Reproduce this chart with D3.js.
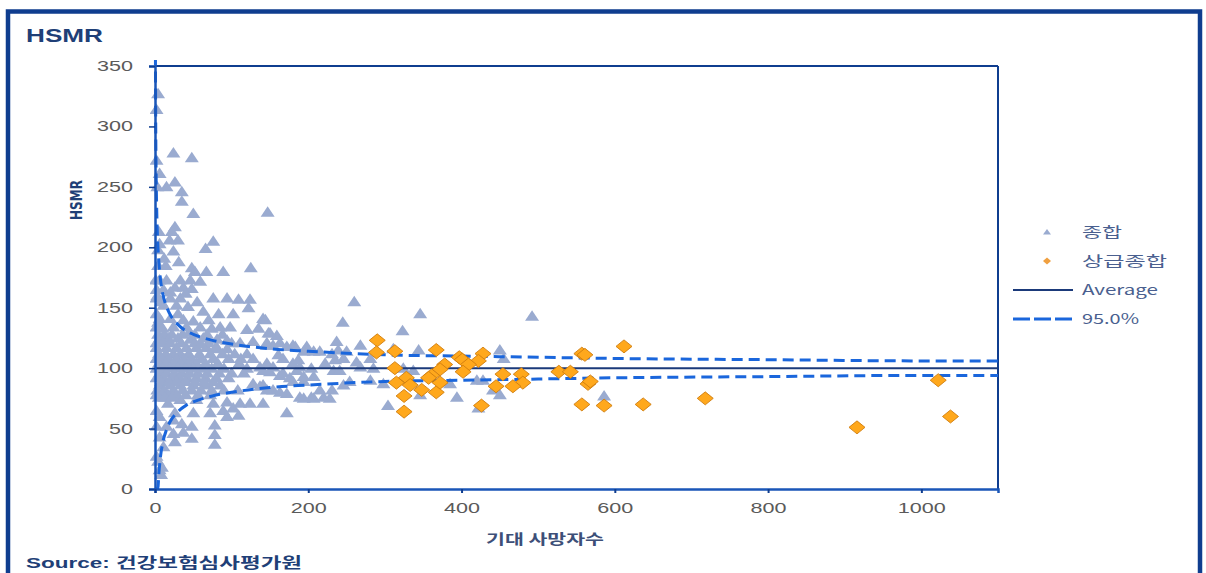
<!DOCTYPE html>
<html><head><meta charset="utf-8">
<script src="https://cdn.jsdelivr.net/npm/d3@7"></script>
<style>
html,body{margin:0;padding:0;background:#fff;}
svg{display:block;}
</style></head>
<body><svg id="c" width="1206" height="573"></svg>
<script>
// ---- data ----
const xTicks = [0, 200, 400, 600, 800, 1000];
const yTicks = [0, 50, 100, 150, 200, 250, 300, 350];
const seriesNames = ["종합", "상급종합", "Average", "95.0%"];
const averageValue = 100;
const bandX     = [0.3,0.5,0.7,1,1.5,2,3,4,5,7,10,15,20,30,40,50,75,100,150,200,300,400,500,600,800,1000,1100];
const bandUpper = [458,377,334,296,260,239,213,198,188,174,162,151,144,136,131,128,123,120,116,114,111,110,109,108,107,106,106];
const bandLower = [0,0,0,0,0,0,0,2,12,26,38,49,56,64,69,72,77,80,84,86,89,90,91,92,93,94,94];

// 종합 (expected deaths, HSMR)
const general = [
[4,327],[2,314],[24,278],[48,274],[2,272],[6,261],[26,254],[3,250],[15,250],[35,246],[35,238],[50,228],[147,229],[26,217],[22,213],[30,206],[19,206],[5,213],[6,203],[76,205],[66,199],[4,198],[12,191],[31,188],[4,185],[48,183],[125,183],[52,180],[67,180],[89,180],
[1,173],[6,173],[15,173],[33,173],[46,173],[59,172],[26,167],[37,167],[48,166],[11,165],[20,163],
[2,158],[20,158],[33,158],[76,158],[94,158],[109,157],[124,157],
[11,152],[28,152],[43,151],[63,147],[83,145],[102,145],[122,150],[141,141],
[6,141],[20,141],[37,140],[50,139],
[2,134],[24,134],[41,134],[59,134],[74,133],[85,134],[98,134],
[120,132],[135,133],[148,129],[159,127],
[6,125],[17,125],[30,125],[46,124],[63,125],[81,124],[94,123],
[111,121],[128,122],[146,121],[163,121],[183,118],[198,118],[215,114],
[2,117],[15,117],[28,117],[41,117],[54,117],[67,117],[81,116],[94,116],
[189,101],[204,100],[137,101],[150,97],[163,94],[176,92],
[6,86],[20,86],[33,86],[50,86],[67,86],[85,86],[128,87],[141,86],
[154,82],[172,79],[189,76],[204,76],[220,76],
[33,74],[54,74],[76,71],[94,72],[111,71],[124,71],[141,71],[17,71],[2,65],
[26,63],[50,63],[72,63],[89,65],[102,67],[172,63],
[6,60],[24,57],[35,54],[48,52],[2,52],[15,52],[24,46],[37,47],[48,42],[78,53],[94,60],[109,61],[78,45],[78,37],
[6,43],[11,35],[26,39],[4,23],[6,16],[2,27],[9,18],[8,12],
[260,155],[346,145],[492,143],[144,140],[245,138],[323,131],[150,129],[180,119],[172,118],[154,119],[146,119],[237,122],[268,119],
[239,115],[231,112],[250,114],[246,108],[235,107],[222,104],[207,114],[194,114],[187,107],[180,104],[167,108],[161,111],
[146,104],[154,101],[141,98],[167,96],[185,98],[194,93],[207,93],[233,98],[241,98],[268,101],[285,100],[281,108],[263,105],
[311,116],[344,115],[337,98],[324,100],[137,85],[146,82],[163,80],[180,89],[194,89],[194,75],[207,75],[228,75],[231,82],[215,82],
[246,86],[254,89],[281,90],[298,87],[304,69],[346,78],[394,76],[385,87],[420,90],[428,90],[450,115],[455,108],[441,82],[450,78],[422,67],[586,77],
[4,128],[12,128],[22,128],[36,128],[52,128],[68,128],[88,128],
[2,121],[10,121],[20,121],[34,121],[52,121],[70,121],[100,121],
[5,112],[14,112],[24,112],[33,112],[44,112],[58,112],[72,112],[88,112],[104,112],[120,112],
[2,108],[9,108],[18,108],[28,108],[38,108],[48,108],[60,108],[76,108],[96,108],[112,108],[128,108],
[5,104],[14,104],[24,104],[34,104],[44,104],[54,104],[66,104],[82,104],[110,104],
[2,100],[10,100],[20,100],[30,100],[40,100],[50,100],[62,100],[74,100],[90,100],[120,100],
[6,96],[15,96],[25,96],[35,96],[45,96],[56,96],[68,96],[84,96],[100,96],[116,96],
[2,92],[11,92],[22,92],[32,92],[42,92],[54,92],[66,92],[80,92],[96,92],
[8,89],[18,89],[28,89],[40,89],[52,89],[64,89],[76,89],
[3,82],[12,82],[24,82],[36,82],[48,82],[60,82],[74,82],[90,82],[108,82],
[2,78],[9,78],[17,78],[28,78],[40,78],[56,78],[72,78],[5,76],[13,76],[22,76],
[2,165],[3,160],[2,145],[4,138],[8,155],[30,145],[55,155],[40,162],[14,185],[24,197],[70,140],[60,120],[45,130],[80,118],[10,133]
];
// 상급종합
const tertiary = [
[290,123],[289,113],[313,114],[367,115],[313,100],[397,109],[401,107],[428,112],[422,106],[409,103],[378,103],[372,99],
[361,94],[357,92],[402,97],[328,92],[315,88],[333,86],[348,82],[367,80],[372,88],[325,77],[325,64],[426,69],
[454,95],[478,95],[480,88],[445,85],[467,85],[557,112],[561,111],[612,118],[527,97],[542,97],[565,87],[568,89],
[557,70],[586,69],[637,70],[718,75],[916,51],[1022,90],[1038,60]
];

// ---- drawing ----
const svg = d3.select("#c");
const x = d3.scaleLinear().domain([0, 1100]).range([155, 998]);
const y = d3.scaleLinear().domain([0, 350]).range([489, 66]);

const navy = "#0f3d8f", axisBlue = "#1a56b8";

// outer frame
svg.append("rect").attr("x", 8).attr("y", 11.5).attr("width", 1192).attr("height", 620)
  .attr("fill", "none").attr("stroke", navy).attr("stroke-width", 4.5);

// title
svg.append("text").attr("x", 26).attr("y", 42).text("HSMR")
  .attr("font-family", "Liberation Sans, Arial, sans-serif").attr("font-weight", "bold")
  .attr("font-size", 18).attr("fill", "#1f3f77")
  .attr("textLength", 77).attr("lengthAdjust", "spacingAndGlyphs");

// clip
svg.append("defs").append("clipPath").attr("id", "clip")
  .append("rect").attr("x", 150).attr("y", 60).attr("width", 848).attr("height", 429);

// plot border top & right
svg.append("line").attr("x1", 155).attr("x2", 998).attr("y1", 66).attr("y2", 66)
  .attr("stroke", navy).attr("stroke-width", 2);
svg.append("line").attr("x1", 998).attr("x2", 998).attr("y1", 66).attr("y2", 489)
  .attr("stroke", navy).attr("stroke-width", 2);

const tickFont = "Liberation Sans, Arial, sans-serif";

const plot = svg.append("g").attr("clip-path", "url(#clip)");
const tri = "M0,-6L7,4.5L-7,4.5Z";
const dia = "M0,-6.5L8,0L0,6.5L-8,0Z";

plot.selectAll("path.g").data(general).join("path").attr("class", "g")
  .attr("d", tri).attr("transform", d => `translate(${x(d[0])},${y(d[1])})`)
  .attr("fill", "#9aabd0");

// y axis
const gy = svg.append("g").attr("transform", "translate(155,0)")
  .call(d3.axisLeft(y).tickValues(yTicks).tickSize(6).tickPadding(16).tickFormat(d3.format("d")));
gy.select(".domain").attr("stroke", axisBlue).attr("stroke-width", 2.5);
gy.selectAll(".tick line").attr("stroke", navy).attr("stroke-width", 1.5);
gy.selectAll(".tick text").attr("font-family", tickFont).attr("font-size", 14).attr("fill", "#5a5a5a")
  .attr("textLength", d => String(d).length * 12).attr("lengthAdjust", "spacingAndGlyphs");

// x axis
const gx = svg.append("g").attr("transform", "translate(0,489)")
  .call(d3.axisBottom(x).tickValues(xTicks).tickSize(4).tickPadding(10).tickFormat(d3.format("d")));
gx.select(".domain").attr("stroke", axisBlue).attr("stroke-width", 2.5);
gx.selectAll(".tick line").attr("stroke", navy).attr("stroke-width", 2);
gx.selectAll(".tick text").attr("font-family", tickFont).attr("font-size", 14).attr("fill", "#5a5a5a")
  .attr("textLength", d => String(d).length * 12).attr("lengthAdjust", "spacingAndGlyphs");

// axis titles
svg.append("text").attr("transform", "translate(82,200) rotate(-90)").attr("text-anchor", "middle")
  .text("HSMR").attr("font-family", "DejaVu Sans Condensed, Liberation Sans, sans-serif").attr("font-weight", "bold")
  .attr("font-size", 16).attr("fill", "#1f3f77")
  .attr("textLength", 40).attr("lengthAdjust", "spacingAndGlyphs");
svg.append("text").attr("x", 545).attr("y", 544).attr("text-anchor", "middle").text("기대 사망자수")
  .attr("font-family", "Noto Sans CJK KR, sans-serif").attr("font-weight", "bold")
  .attr("font-size", 14).attr("fill", "#3d4f78")
  .attr("textLength", 118).attr("lengthAdjust", "spacingAndGlyphs");
svg.append("text").attr("x", 26).attr("y", 568).text("Source: 건강보험심사평가원")
  .attr("font-family", "Liberation Sans, Noto Sans CJK KR, sans-serif").attr("font-weight", "bold")
  .attr("font-size", 15).attr("fill", "#1f3f77")
  .attr("textLength", 276).attr("lengthAdjust", "spacingAndGlyphs");

// average line
plot.append("line").attr("x1", x(0)).attr("x2", x(1100)).attr("y1", y(averageValue)).attr("y2", y(averageValue))
  .attr("stroke", "#1b3a7a").attr("stroke-width", 2);

// 95% bands
const bandLine = arr => d3.line().x((d, i) => x(bandX[i])).y(d => y(d)).curve(d3.curveMonotoneX)(arr);
[bandUpper, bandLower].forEach(arr => {
  plot.append("path").attr("d", bandLine(arr)).attr("fill", "none")
    .attr("stroke", "#1a66dc").attr("stroke-width", 3).attr("stroke-dasharray", "11,6");
});

plot.selectAll("path.t").data(tertiary).join("path").attr("class", "t")
  .attr("d", dia).attr("transform", d => `translate(${x(d[0])},${y(d[1])})`)
  .attr("fill", "#ffa81c").attr("stroke", "#cf7d0e").attr("stroke-width", 0.9);

// legend
const lg = svg.append("g");
const legFont = "Noto Sans CJK KR, Liberation Sans, sans-serif";
const legRows = [
  {name: seriesNames[0], y: 232, len: 40},
  {name: seriesNames[1], y: 261, len: 85},
  {name: seriesNames[2], y: 290, len: 76},
  {name: seriesNames[3], y: 319, len: 57}
];
lg.append("path").attr("d", "M0,-3L4,2.5L-4,2.5Z").attr("transform", "translate(1047,232)").attr("fill", "#9aabd0");
lg.append("path").attr("d", "M0,-3.5L4,0L0,3.5L-4,0Z").attr("transform", "translate(1047,261)").attr("fill", "#f0a040");
lg.append("line").attr("x1", 1013).attr("x2", 1073).attr("y1", 290).attr("y2", 290).attr("stroke", "#1b3a7a").attr("stroke-width", 2);
lg.append("line").attr("x1", 1013).attr("x2", 1073).attr("y1", 319).attr("y2", 319).attr("stroke", "#1a66dc")
  .attr("stroke-width", 3).attr("stroke-dasharray", "17,4");
lg.selectAll("text").data(legRows).join("text")
  .attr("x", 1082).attr("y", d => d.y).attr("dy", "0.35em").text(d => d.name)
  .attr("font-family", legFont).attr("font-size", 14).attr("fill", "#4a5f8f")
  .attr("textLength", d => d.len).attr("lengthAdjust", "spacingAndGlyphs");
</script>
</body></html>
